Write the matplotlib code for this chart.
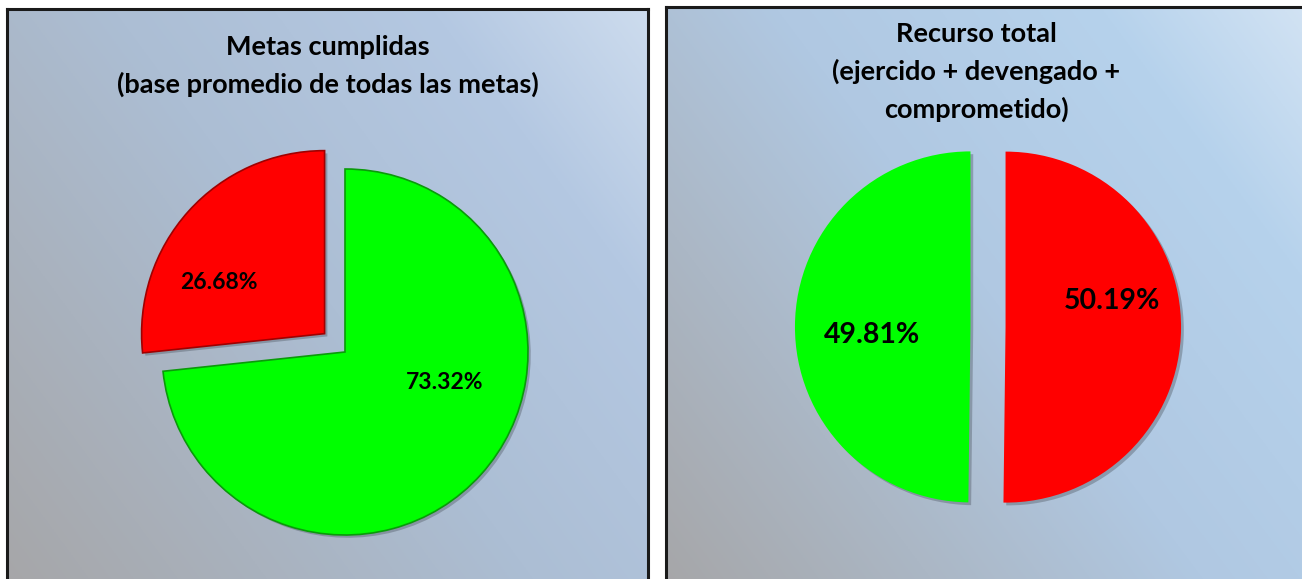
"""Two exploded pie charts: metas cumplidas and recurso total."""

import matplotlib

matplotlib.use("Agg")

import matplotlib.patheffects as pe
import matplotlib.pyplot as plt
import numpy as np

plt.rcParams["font.family"] = ["Lato", "DejaVu Sans"]

# data
metas_labels = ["Cumplidas", "No cumplidas"]
metas_values = [73.32, 26.68]
metas_colors = ["#00ff00", "#ff0000"]
metas_title = "Metas cumplidas\n(base promedio de todas las metas)"

recurso_labels = ["Sin ejercer", "Ejercido"]
recurso_values = [50.19, 49.81]
recurso_colors = ["#ff0000", "#00ff00"]
recurso_title = "Recurso total\n(ejercido + devengado +\ncomprometido)"

W, H = 1302, 579


def px_box(x0, y0, x1, y1):
    """Pixel box (top-left origin) to figure fraction rect."""
    return [x0 / W, 1 - y1 / H, (x1 - x0) / W, (y1 - y0) / H]


def gradient_panel(fig, box, stops):
    ax = fig.add_axes(px_box(*box))
    ny, nx = 200, 300
    xx, yy = np.meshgrid(np.linspace(0, 1, nx), np.linspace(1, 0, ny))
    t = (xx * 0.6 + yy * 0.4)
    pos = [s[0] for s in stops]
    img = np.zeros((ny, nx, 3))
    for c in range(3):
        img[..., c] = np.interp(t, pos, [s[1][c] / 255 for s in stops])
    ax.imshow(img, extent=(0, 1, 0, 1), aspect="auto", origin="upper")
    ax.set_xticks([])
    ax.set_yticks([])
    for sp in ax.spines.values():
        sp.set_linewidth(2.2)
        sp.set_color("#1a1a1a")
    return ax


def draw_pie(fig, center, radius, values, colors, explode, label_shift,
             label_dist, fontsize, bevel):
    cx, cy = center
    half = radius * 1.3
    ax = fig.add_axes(px_box(cx - half, cy - half, cx + half, cy + half))
    ax.patch.set_alpha(0)
    wedges, _, autotexts = ax.pie(
        values,
        colors=colors,
        explode=explode,
        startangle=90,
        counterclock=False,
        autopct="%.2f%%",
        pctdistance=0.6,
        wedgeprops={"linewidth": 1.2 if bevel else 0},
        textprops={"fontsize": fontsize, "fontweight": "bold", "color": "black"},
    )
    for w, col in zip(wedges, colors):
        if bevel:
            w.set_edgecolor("#0a9a0a" if col == "#00ff00" else "#a00000")
        w.set_path_effects([
            pe.SimplePatchShadow(offset=(2, -2), shadow_rgbFace="#5a6470", alpha=0.45),
            pe.Normal(),
        ])
    # place labels the way the original chart does
    for w, t, shift, d in zip(wedges, autotexts, label_shift, label_dist):
        ang = np.deg2rad((w.theta1 + w.theta2) / 2 + shift)
        x0, y0 = w.center
        t.set_position((x0 + d * np.cos(ang), y0 + d * np.sin(ang)))
    lim = half / radius
    ax.set_xlim(-lim, lim)
    ax.set_ylim(-lim, lim)
    ax.axis("off")
    return ax


fig = plt.figure(figsize=(W / 100, H / 100), dpi=100)

left_stops = [(0.0, (166, 166, 168)), (0.5, (172, 190, 212)),
              (0.8, (180, 200, 226)), (1.0, (205, 220, 238))]
right_stops = [(0.0, (166, 166, 168)), (0.5, (176, 200, 226)),
               (0.8, (182, 210, 236)), (1.0, (212, 228, 244))]

gradient_panel(fig, (7, 9, 648, 590), left_stops)
gradient_panel(fig, (666, 7, 1320, 590), right_stops)

draw_pie(fig, (345, 352), 183, metas_values, metas_colors,
         explode=[0, 0.15], label_shift=[25, 16], label_dist=[0.57, 0.64],
         fontsize=16.5, bevel=True)
draw_pie(fig, (988, 327), 175.5, recurso_values, recurso_colors,
         explode=[0.1, 0.1], label_shift=[14, 5], label_dist=[0.625, 0.56],
         fontsize=20.5, bevel=False)

fig.text(328 / W, 1 - 35 / H, metas_title, ha="center", va="top",
         fontsize=19.5, fontweight="bold", linespacing=1.6)
fig.text(976 / W, 1 - 22 / H, recurso_title, ha="center", va="top",
         fontsize=19.5, fontweight="bold", linespacing=1.6)

fig.savefig("out.png", dpi=100)
plt.close(fig)
